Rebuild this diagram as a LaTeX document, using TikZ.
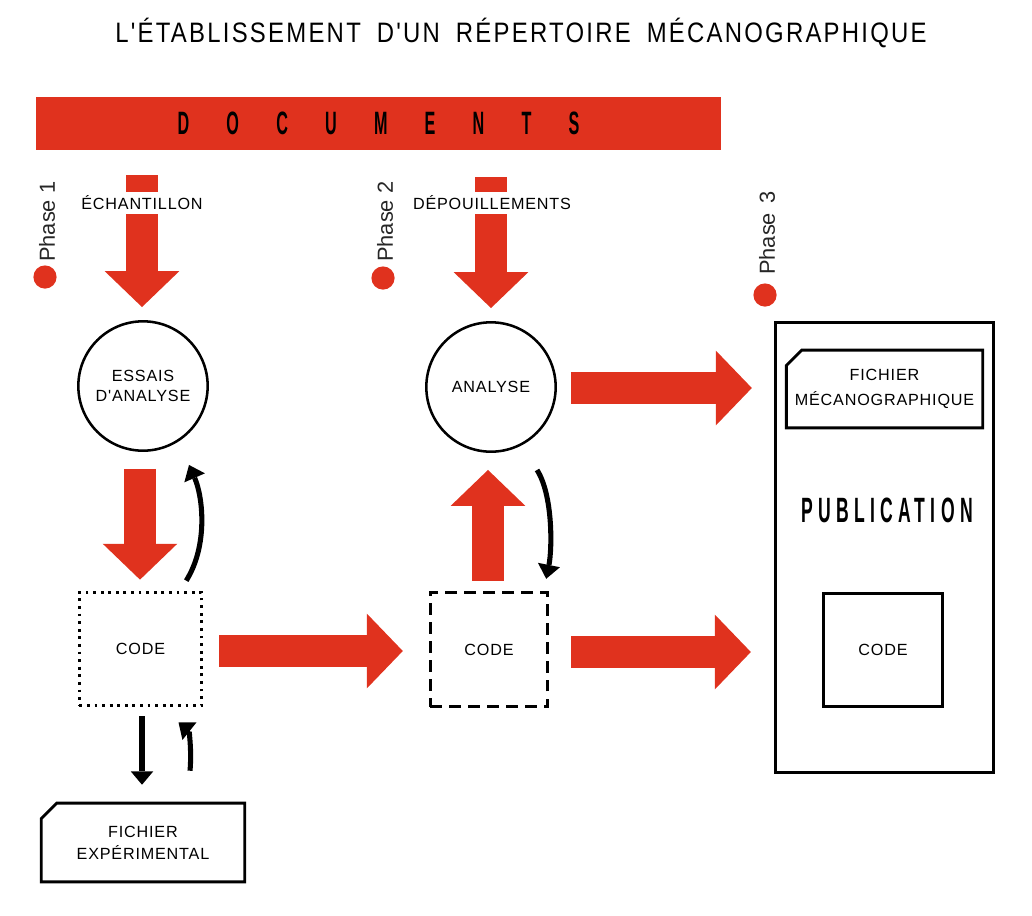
\documentclass[tikz,border=0pt]{standalone}
\usepackage{fontspec}
\setmainfont{Liberation Sans}
\newfontfamily\titlefont[FakeStretch=0.85,LetterSpace=8,WordSpace=1.8]{Liberation Sans}
\newfontfamily\lblfont[LetterSpace=5]{Liberation Sans}
\newfontfamily\condfont[FakeStretch=0.5]{Liberation Sans}
\usetikzlibrary{arrows.meta,shapes.misc,calc}
\definecolor{docred}{RGB}{224,50,30}
\begin{document}
\begin{tikzpicture}[x=0.025cm,y=-0.025cm,
  titlest/.style={inner sep=0pt,font=\titlefont\fontsize{20}{22}\selectfont},
  lbl/.style={inner sep=0pt,align=center,font=\lblfont\fontsize{11.5}{14.2}\selectfont},
  phasest/.style={rotate=90,inner sep=0pt,text=black!85,font=\fontsize{15.5}{18}\selectfont},
  dotst/.style={circle,fill=docred,minimum size=16.5pt,inner sep=0pt},
  circ/.style={lbl,circle,draw,line width=1.8pt,minimum size=92pt},
  codebox/.style={lbl,draw,line width=2pt},
  chbox/.style={lbl,chamfered rectangle,chamfered rectangle corners=north west,
     chamfered rectangle xsep=5.5pt,chamfered rectangle ysep=5.5pt,draw,line width=2pt},
  fat/.style={color=docred,line width=23.4pt,-{Triangle[width=53pt,length=25.5pt,line width=0pt 0 0]}},
  blk/.style={line width=3.6pt,-{Triangle[width=16pt,length=10pt,line width=0pt 0 0]}},
  blkstraight/.style={line width=4.5pt,-{Triangle[width=16pt,length=9.5pt,line width=0pt 0 0]}},
  gaplbl/.style={lbl,fill=white,inner xsep=2pt,inner ysep=3pt}
]
\useasboundingbox (0,0) rectangle (1032,915);

% title
\node[titlest] (title) at (521,33) {L'ÉTABLISSEMENT D'UN RÉPERTOIRE MÉCANOGRAPHIQUE};

% documents bar
\node[fill=docred,minimum width=486.9pt,minimum height=37.6pt,inner sep=0pt,
      font=\condfont\bfseries\fontsize{23}{24}\selectfont\addfontfeature{LetterSpace=115}]
      (docs) at (378.5,123.5) {DOCUMENTS};

% phases
\node[phasest,anchor=west] (ph1) at (47,262) {Phase 1};
\node[dotst] (dot1) at (45,277) {};
\node[phasest,anchor=west] (ph2) at (385,262) {Phase 2};
\node[dotst] (dot2) at (383,278) {};
\node[phasest,anchor=west] (ph3) at (767,275) {Phase\hspace{0.45em}3};
\node[dotst] (dot3) at (765,295) {};

% circles
\node[circ] (ess) at (143,386) {ESSAIS\\D'ANALYSE};
\node[circ] (ana) at (491,387) {ANALYSE};

% code boxes
\node[codebox,dash pattern=on 2pt off 3.4pt,line width=2.2pt,minimum width=87pt,minimum height=80.8pt] (code1) at (140.5,649) {CODE};
\node[codebox,dash pattern=on 8.5pt off 5pt,line width=2pt,minimum width=83.6pt,minimum height=81.5pt] (code2) at (489,649.5) {CODE};

% publication
\node[draw,line width=2.2pt,minimum width=155.2pt,minimum height=319.6pt,inner sep=0pt] (pub) at (884.5,547.5) {};
\node[chbox,minimum width=139.6pt,minimum height=55.3pt,font=\lblfont\fontsize{11.5}{17.7}\selectfont] (fm) at (884.5,389) {FICHIER\\MÉCANOGRAPHIQUE};
\node[inner sep=0pt,font=\condfont\bfseries\fontsize{25}{27}\selectfont\addfontfeature{LetterSpace=15}] (pubt) at (887,510) {PUBLICATION};
\node[codebox,minimum width=85pt,minimum height=80.8pt] (code3) at (883,650) {CODE};

% fichier experimental
\node[chbox,minimum width=144.6pt,minimum height=56pt,font=\lblfont\fontsize{11.5}{15.6}\selectfont] (fe) at (143,842.5) {FICHIER\\EXPÉRIMENTAL};

% fat red arrows
\coordinate (s1) at (142,175);
\coordinate (s2) at (491,177);
\draw[fat] (s1) -- ($(ess.north)+(-1,-13)$);
\node[gaplbl] (ech) at (142,203) {ÉCHANTILLON};
\draw[fat] (s2) -- ($(ana.north)+(0,-13)$);
\node[gaplbl] (dep) at (492,203) {DÉPOUILLEMENTS};
\draw[fat] ($(ess.south)+(-3,17)$) -- ($(ess.south |- code1.north)+(-3,-11)$);
\draw[fat] ($(code2.north)+(-1,-10)$) -- ($(ana.south)+(-3,17)$);
\draw[fat] ($(ana.east)+(14,1)$) -- ($(ana.east -| pub.west)+(-22,1)$);
\draw[fat] ($(code1.east)+(16,2)$) -- ($(code1.east -| code2.west)+(-26,2)$);
\draw[fat] ($(code2.east)+(22,2.5)$) -- ($(code2.east -| pub.west)+(-23,2.5)$);

% black arrows
\draw[blk] ($(code1.north east)+(-17,-10)$) .. controls +(22,-35) and +(14,32) .. ($(ess.south)+(46,13)$);
\draw[blk] ($(ana.south)+(46,17)$) .. controls +(16,25) and +(6,-30) .. ($(code2.north east)+(-3,-12)$);
\draw[blkstraight] ($(code1.south)+(1.5,9)$) -- ($(code1.south |- fe.north)+(1.5,-17)$);
\draw[blk] ($(fe.north)+(47,-31)$) .. controls +(2,-22) and +(10,8) .. ($(code1.south)+(38,15)$);
\end{tikzpicture}
\end{document}
